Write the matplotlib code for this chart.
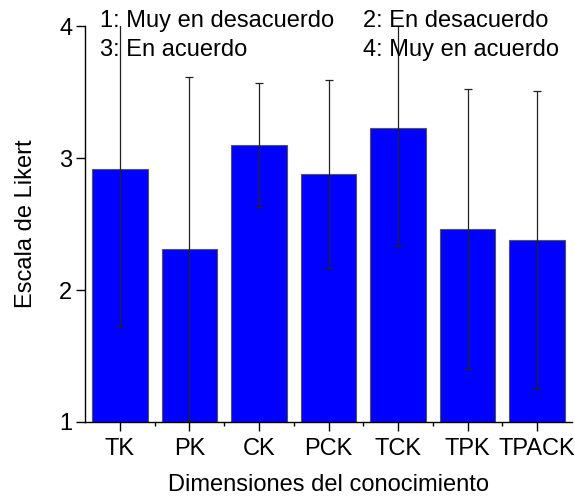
import matplotlib
matplotlib.use("Agg")
import matplotlib.pyplot as plt
import numpy as np

plt.rcParams['font.family'] = ['Liberation Sans', 'DejaVu Sans']

# datos
dimensiones = ['TK', 'PK', 'CK', 'PCK', 'TCK', 'TPK', 'TPACK']
medias = [2.92, 2.31, 3.10, 2.88, 3.23, 2.46, 2.38]
desv = [1.19, 1.30, 0.47, 0.71, 0.90, 1.06, 1.13]
escala = ['1: Muy en desacuerdo', '2: En desacuerdo', '3: En acuerdo', '4: Muy en acuerdo']

fs = 17

fig = plt.figure(figsize=(5.75, 4.96), dpi=100)
ax = fig.add_axes([85/575, 1-422/496, 487/575, 396/496])

x = np.arange(len(dimensiones))
ax.bar(x, [m - 1 for m in medias], bottom=1, width=0.8, color='#0000FF',
       edgecolor='#555555', linewidth=0.8, zorder=2)
ax.errorbar(x, medias, yerr=desv, fmt='none', ecolor='#222222',
            elinewidth=0.9, capsize=3, capthick=0.9, zorder=3)

ax.set_xlim(-0.5, 6.5)
ax.set_ylim(1, 4)
ax.set_yticks([1, 2, 3, 4])
ax.set_xticks(x)
ax.set_xticklabels(dimensiones)
ax.set_xticks(x[:-1] + 0.5, minor=True)
ax.tick_params(axis='both', which='major', direction='out', length=6.5, width=1,
               labelsize=fs, pad=2.5)
ax.tick_params(axis='x', which='major', pad=5)
ax.tick_params(axis='x', which='minor', direction='out', length=3, width=1)
ax.spines['top'].set_visible(False)
ax.spines['right'].set_visible(False)
for s in ['left', 'bottom']:
    ax.spines[s].set_linewidth(1)

ax.set_xlabel('Dimensiones del conocimiento', fontsize=fs, labelpad=10)
ax.set_ylabel('Escala de Likert', fontsize=fs, labelpad=16)

pos = [(100, 27), (363, 27), (100, 56), (363, 56)]
for txt, (px, py) in zip(escala, pos):
    fig.text(px/575, 1-py/496, txt, fontsize=fs, va='baseline', ha='left')

fig.savefig('out.png', dpi=100)
